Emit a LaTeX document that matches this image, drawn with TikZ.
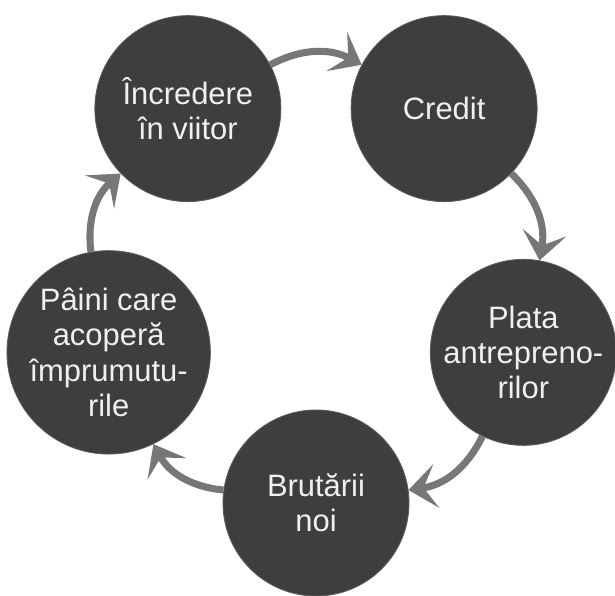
\documentclass[tikz,border=0pt]{standalone}
\usepackage{fontspec}
\setmainfont{Liberation Sans}
\usetikzlibrary{arrows.meta}
\definecolor{bubblegray}{HTML}{3E3E3E}
\definecolor{arrowgray}{HTML}{777777}

\tikzset{
  bubble/.style={circle, fill=bubblegray, draw=bubblegray!85!white, line width=0.6pt,
    minimum size=4.65cm, inner sep=0pt, align=center, text=white!94!black,
    font=\fontsize{22}{25}\selectfont},
  cyclearrow/.style={draw=arrowgray, line width=5pt, bend left=28,
    -{Stealth[length=7mm,width=11mm,inset=3.2mm]}}
}

\begin{document}
\begin{tikzpicture}
        \useasboundingbox (-7.9,-7.775) rectangle (7.475,7.125);
        % the five stages, on a pentagon of radius 5.45
        \node[bubble] (incredere) at (126:5.45) {Încredere\\în viitor};
        \node[bubble] (credit) at (54:5.45) {Credit};
        \node[bubble] (plata) at (-18:5.45) {Plata\\antrepreno-\\rilor};
        \node[bubble] (brutarii) at (-90:5.45) {Brutării\\noi};
        \node[bubble] (paini) at (198:5.45) {Pâini care\\acoperă\\împrumutu-\\rile};
        % arrows, clockwise
        \foreach \a/\b in {incredere/credit, credit/plata, plata/brutarii, brutarii/paini, paini/incredere} {
                \draw[cyclearrow] (\a) to (\b);
            }
\end{tikzpicture}
\end{document}
